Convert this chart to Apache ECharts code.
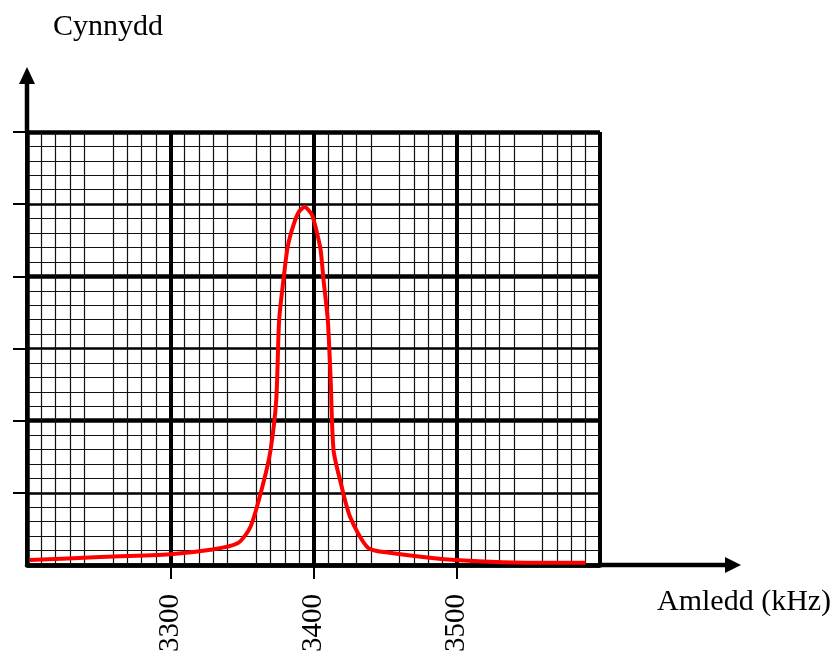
<!DOCTYPE html>
<html>
<head>
<meta charset="utf-8">
<script src="https://cdn.jsdelivr.net/npm/echarts@6/dist/echarts.min.js"></script>
<style>
  html, body { margin: 0; padding: 0; background: #fff; }
  #chart { width: 834px; height: 653px; }
</style>
</head>
<body>
<div id="chart"></div>
<script>
// frequency (kHz) and gain
var freq = [3202, 3251, 3300, 3328, 3347, 3356, 3365, 3370, 3374, 3376, 3379, 3382, 3386, 3390, 3394, 3396, 3399, 3402, 3405, 3407, 3410, 3412, 3414, 3419, 3425.5, 3438, 3453, 3499, 3565, 3590];
var gain = [0.07, 0.11, 0.15, 0.21, 0.30, 0.53, 1.14, 1.59, 2.29, 3.39, 3.95, 4.41, 4.71, 4.90, 4.96, 4.93, 4.85, 4.64, 4.36, 3.95, 3.39, 2.56, 1.59, 1.14, 0.67, 0.24, 0.17, 0.07, 0.03, 0.03];
var xTickLabels = [3300, 3400, 3500];
var yTicks = [1, 2, 3, 4, 5, 6];

var pts = freq.map(function (f, i) { return [f, gain[i]]; });

var G = { left: 27, top: 132, width: 573, height: 433 };
var serif = "Liberation Serif";

var myChart = echarts.init(document.getElementById("chart"));
var option = {
  animation: false,
  grid: { left: G.left, top: G.top, width: G.width, height: G.height, containLabel: false, outerBoundsMode: "none" },
  xAxis: [
    {
      type: "value", min: 3200, max: 3600, interval: 50, position: "bottom",
      axisLine: { show: true, onZero: false, lineStyle: { color: "#000", width: 4.5 } },
      axisTick: { show: true, customValues: xTickLabels, length: 14, lineStyle: { color: "#000", width: 2 } },
      axisLabel: {
        show: true, customValues: xTickLabels, rotate: 90, margin: 29, color: "#000",
        fontFamily: serif, fontSize: 29,
        formatter: function (v) { return String(v); }
      },
      splitLine: { show: true, lineStyle: { color: "#000", width: 2.5 } },
      minorTick: { show: false, splitNumber: 5 },
      minorSplitLine: { show: true, lineStyle: { color: "#111", width: 1.2 } }
    },
    {
      type: "value", min: 3200, max: 3600, interval: 100, position: "top",
      axisLine: { show: false }, axisTick: { show: false }, axisLabel: { show: false },
      splitLine: { show: true, lineStyle: { color: "#000", width: 4 } }
    }
  ],
  yAxis: [
    {
      type: "value", min: 0, max: 6, interval: 1, position: "left",
      axisLine: { show: true, onZero: false, lineStyle: { color: "#000", width: 4.5 } },
      axisTick: { show: true, customValues: yTicks, length: 14, lineStyle: { color: "#000", width: 2 } },
      axisLabel: { show: false },
      splitLine: { show: true, lineStyle: { color: "#000", width: 2.5 } },
      minorTick: { show: false, splitNumber: 5 },
      minorSplitLine: { show: true, lineStyle: { color: "#111", width: 1.2 } }
    },
    {
      type: "value", min: 0, max: 6, interval: 2, position: "right",
      axisLine: { show: false }, axisTick: { show: false }, axisLabel: { show: false },
      splitLine: { show: true, lineStyle: { color: "#000", width: 4.5 } }
    }
  ],
  series: [
    {
      name: "Cynnydd",
      type: "line",
      xAxisIndex: 0,
      yAxisIndex: 0,
      data: pts,
      smooth: 0.25,
      symbol: "none",
      lineStyle: { color: "#ff0000", width: 4 },
      z: 5
    }
  ],
  graphic: [
    // axis extensions with arrow heads
    { type: "line", shape: { x1: G.left + G.width, y1: G.top + G.height, x2: 727, y2: G.top + G.height }, style: { stroke: "#000", lineWidth: 4.5 } },
    { type: "polygon", shape: { points: [[725, 557], [741, 565], [725, 573]] }, style: { fill: "#000" } },
    { type: "line", shape: { x1: G.left, y1: G.top, x2: G.left, y2: 82 }, style: { stroke: "#000", lineWidth: 4.5 } },
    { type: "polygon", shape: { points: [[19, 84], [27, 67], [35, 84]] }, style: { fill: "#000" } },
    { type: "text", left: 53, top: 12, style: { text: "Cynnydd", fill: "#000", font: "30px " + serif } },
    { type: "text", left: 657, top: 587, style: { text: "Amledd (kHz)", fill: "#000", font: "30px " + serif } }
  ]
};
myChart.setOption(option);
</script>
</body>
</html>
